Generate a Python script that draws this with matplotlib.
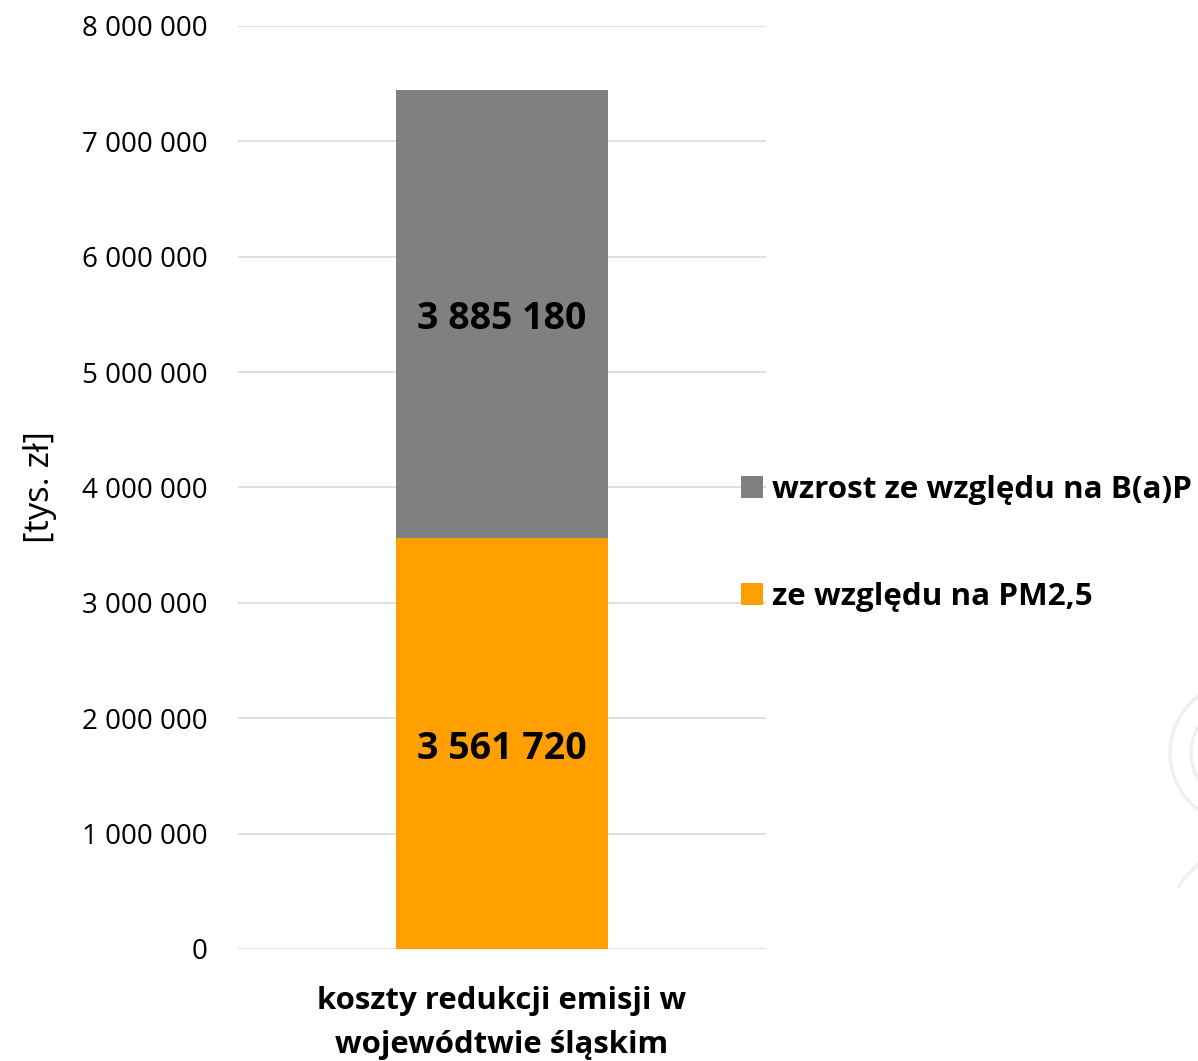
import matplotlib.pyplot as plt
from matplotlib.ticker import FuncFormatter
from matplotlib.patches import Arc

categories = ['koszty redukcji emisji w\nwojewódtwie śląskim']
pm25 = [3561720]
bap = [3885180]
series_names = ['ze względu na PM2,5', 'wzrost ze względu na B(a)P']

plt.rcParams['font.family'] = ['Open Sans', 'DejaVu Sans']

fig = plt.figure(figsize=(11.98, 10.61), dpi=100)
ax = fig.add_axes([0.1987, 0.1056, 0.4407, 0.8699])

x = range(len(categories))
b1 = ax.bar(x, pm25, width=0.40, color='#FFA000', label=series_names[0], zorder=3)
b2 = ax.bar(x, bap, width=0.40, bottom=pm25, color='#808080', label=series_names[1], zorder=3)

fmt = lambda v: f'{int(v):,}'.replace(',', ' ')
for bars, vals, bottoms in [(b1, pm25, [0] * len(pm25)), (b2, bap, pm25)]:
    for rect, v, b in zip(bars, vals, bottoms):
        ax.annotate(fmt(v), (rect.get_x() + rect.get_width() / 2, b + v * 0.5),
                    xytext=(0, -4), textcoords='offset points',
                    ha='center', va='center', fontsize=27, fontweight='bold', color='black', zorder=4)

ax.set_xlim(-0.5, 0.5)
ax.set_ylim(0, 8000000)
ax.set_yticks(range(0, 8000001, 1000000))
ax.yaxis.set_major_formatter(FuncFormatter(lambda v, p: fmt(v)))
ax.set_xticks(list(x))
ax.set_xticklabels(categories, fontsize=22.4, fontweight='bold', linespacing=1.6)
ax.tick_params(axis='y', labelsize=20, length=0, pad=22)
ax.tick_params(axis='x', length=0, pad=27)
ax.grid(axis='y', color='#d9d9d9', linewidth=1.2, zorder=0)
for s in ax.spines.values():
    s.set_visible(False)
ax.set_ylabel('[tys. zł]', fontsize=25, labelpad=18)

handles = [b2, b1]
fig.legend(handles, [h.get_label() for h in handles], loc='center left',
           bbox_to_anchor=(0.595, 0.4877), frameon=False,
           prop={'weight': 'bold', 'size': 22.6}, handlelength=0.7, handleheight=0.7,
           handletextpad=0.3, labelspacing=2.43)

# faint background decoration at right edge
for r in (142, 100):
    fig.patches.append(Arc((1241, 308), r, r, transform=None, color='#efefef', linewidth=2.5))
fig.patches.append(Arc((1232, 109), 140, 200, theta1=60, theta2=130, transform=None,
                       color='#efefef', linewidth=2.5))

fig.savefig('out.png', dpi=100)
